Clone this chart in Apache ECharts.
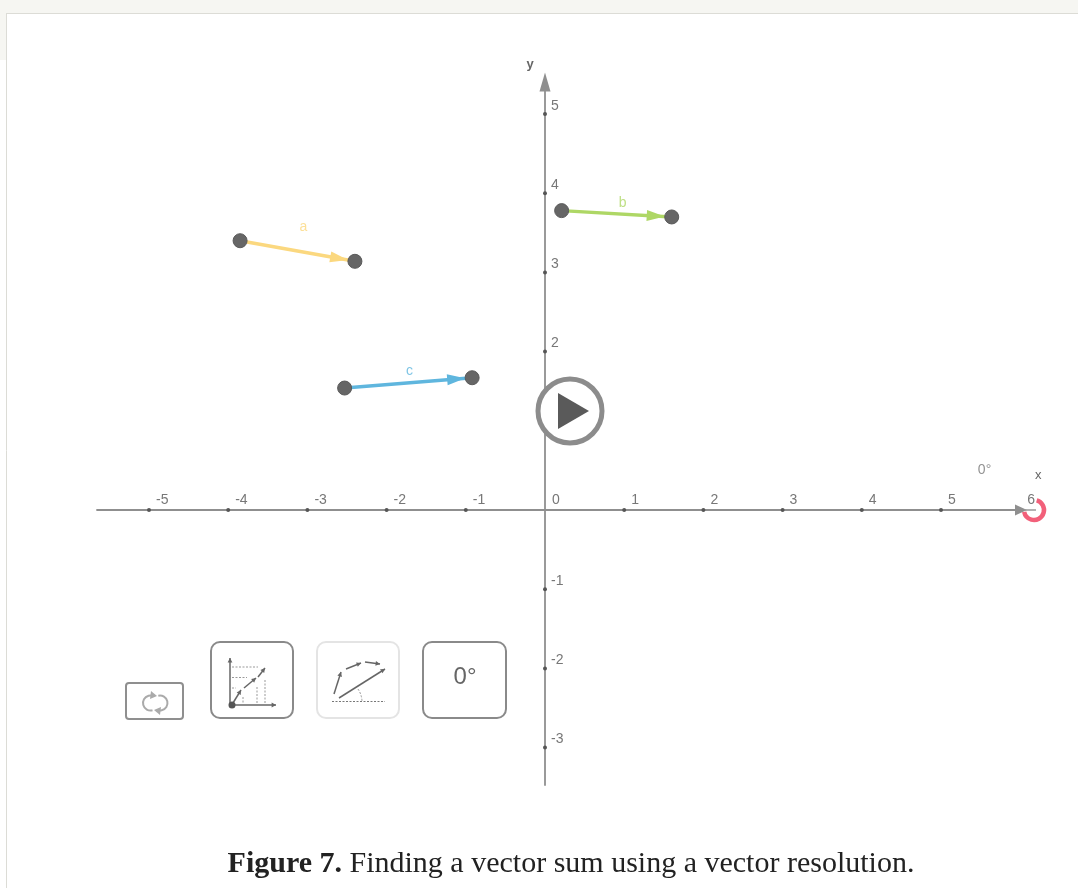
<!DOCTYPE html>
<html>
<head>
<meta charset="utf-8">
<style>html,body{margin:0;padding:0;background:#fff}#c{width:1078px;height:888px}</style>
<script src="https://cdn.jsdelivr.net/npm/echarts@6/dist/echarts.min.js"></script>
</head>
<body>
<div id="c"></div>
<script>
var xTicks = [-5,-4,-3,-2,-1,0,1,2,3,4,5,6];
var yTicks = [-3,-2,-1,1,2,3,4,5];
var vectorNames = ['a','b','c'];
var vectorStarts = [[-3.85,3.40],[0.21,3.78],[-2.53,1.54]];
var vectorEnds = [[-2.40,3.14],[1.60,3.70],[-0.92,1.67]];
var vectorLabelPoints = [[-3.05,3.57],[0.98,3.88],[-1.71,1.75]];
var vectorColors = ['#fbd87f','#aed765','#5fb6de'];
var angleLabelPoint = [5.55,0.50];
var angleText = '0°';

var chart = echarts.init(document.getElementById('c'), null, {renderer:'canvas'});
var GREY = '#8f8f8f', TXT = '#777';
var SANS = '"Liberation Sans", Arial, sans-serif';
var SERIF = '"Liberation Serif", "Times New Roman", serif';

function arrow(p, q, color, w, head, z) {
  var a = Math.atan2(q[1]-p[1], q[0]-p[0]), h = head || 5;
  return [
    {type:'line', z:z||20, shape:{x1:p[0],y1:p[1],x2:q[0],y2:q[1]}, style:{stroke:color,lineWidth:w||1.5}},
    {type:'polygon', z:z||20, shape:{points:[q,
      [q[0]-h*Math.cos(a-0.5), q[1]-h*Math.sin(a-0.5)],
      [q[0]-h*Math.cos(a+0.5), q[1]-h*Math.sin(a+0.5)]]}, style:{fill:color}}
  ];
}
function dashed(x1,y1,x2,y2,c){
  return {type:'line', z:20, shape:{x1:x1,y1:y1,x2:x2,y2:y2}, style:{stroke:c||'#999',lineWidth:1,lineDash:[2,1.5]}};
}
function box(x,y,w,h,r,c,lw){
  return {type:'rect', z:15, shape:{x:x,y:y,width:w,height:h,r:r}, style:{fill:'#fff',stroke:c,lineWidth:lw}};
}

var g = [
  {type:'rect', z:-3, silent:true, shape:{x:0,y:0,width:1078,height:13}, style:{fill:'#f6f6f2'}},
  {type:'rect', z:-3, silent:true, shape:{x:0,y:13,width:6,height:47}, style:{fill:'#f6f6f2'}},
  {type:'line', z:-2, silent:true, shape:{x1:6,y1:13.5,x2:1078,y2:13.5}, style:{stroke:'#dcdcd6',lineWidth:1}},
  {type:'line', z:-2, silent:true, shape:{x1:6.5,y1:13,x2:6.5,y2:888}, style:{stroke:'#dcdcd6',lineWidth:1}},
  // play button
  {type:'circle', z:15, shape:{cx:570,cy:411,r:32}, style:{fill:'#fff',stroke:'#8c8c8c',lineWidth:5}},
  {type:'polygon', z:16, shape:{points:[[558,393],[558,429],[589,411]]}, style:{fill:'#5a5a5a'}},
  // rotate handle
  {type:'line', z:16, shape:{x1:1024,y1:510,x2:1036,y2:510}, style:{stroke:'#999',lineWidth:1.5}},
  {type:'arc', z:17, shape:{cx:1034,cy:510,r:10,startAngle:-1.3,endAngle:2.95}, style:{stroke:'#f2607a',lineWidth:4.5,fill:'none'}},
  // buttons
  box(126,683,57,36,3,'#8f8f8f',2),
  box(211,642,82,76,9,'#8a8a8a',2),
  box(317,642,82,76,9,'#e4e4e4',2),
  box(423,642,83,76,9,'#8a8a8a',2),
  {type:'text', z:20, style:{x:465,y:677,text:'0°',font:'24px "Liberation Sans", Arial, sans-serif',fill:'#666',align:'center',verticalAlign:'middle'}},
  // reset icon
  {type:'arc', z:20, shape:{cx:150.5,cy:703,r:7.5,startAngle:1.3,endAngle:5.0}, style:{stroke:'#aaa',lineWidth:2,fill:'none'}},
  {type:'arc', z:20, shape:{cx:160,cy:703,r:7.5,startAngle:-1.8,endAngle:1.8}, style:{stroke:'#aaa',lineWidth:2,fill:'none'}},
  {type:'polygon', z:20, shape:{points:[[151,691],[157,696],[150,699]]}, style:{fill:'#aaa'}},
  {type:'polygon', z:20, shape:{points:[[160,715],[154,710],[161,707]]}, style:{fill:'#aaa'}},
  // resolution icon
  {type:'circle', z:21, shape:{cx:232,cy:705,r:3.5}, style:{fill:'#555'}},
  dashed(232,667,258,667), dashed(232,677.5,247,677.5), dashed(232,688,236,688),
  dashed(243,697,243,703), dashed(257,687,257,703), dashed(265,680,265,703),
  {type:'arc', z:20, shape:{cx:339,cy:702,r:23,startAngle:-0.6,endAngle:0}, style:{stroke:'#999',lineWidth:1,lineDash:[2,1.5],fill:'none'}},
  dashed(332,701.5,385,701.5,'#777')
];
[
  [[230,704],[230,658]], [[232,705],[276,705]],
  [[233,703],[241,690]], [[244,688],[256,678]], [[258,677],[265,668]],
  [[334,694],[341,672]], [[346,669],[361,663]], [[365,662],[380,664]], [[339,698],[385,669]]
].forEach(function(s){ g = g.concat(arrow(s[0], s[1], '#666', 1.5, 5)); });

// Arrowhead whose tip stops at the rim of the end dot (symbol box is centred on the vector end)
var HEAD = 'path://M25 32L30.5 50L19.5 50Z M0 0L0.01 0L0 0.01Z M50 50L49.99 50L50 49.99Z';

var series = [
  {type:'lines', coordinateSystem:'cartesian2d', polyline:false, z:4,
   symbol:['none',HEAD], symbolSize:[0,50], silent:true,
   data: vectorNames.map(function(n,i){
     return {name:n, coords:[vectorStarts[i], vectorEnds[i]], lineStyle:{color:vectorColors[i],width:3.5,opacity:1,curveness:0}};
   })},
  {type:'scatter', name:'endpoints', z:6, symbolSize:14, silent:true,
   itemStyle:{color:'#666',borderColor:'#5a5a5a',borderWidth:1,opacity:1},
   data: vectorStarts.concat(vectorEnds)},
  {type:'scatter', name:'xticks', z:3, symbolSize:4, silent:true, itemStyle:{color:'#555',opacity:1},
   data: xTicks.filter(function(v){return v!==0 && v!==6;}).map(function(v){return [v,0];})},
  {type:'scatter', name:'yticks', z:3, symbolSize:4, silent:true, itemStyle:{color:'#555',opacity:1},
   data: yTicks.map(function(v){return [0,v];})},
  {type:'scatter', name:'vectorLabels', z:5, symbolSize:0, silent:true,
   data: vectorLabelPoints.map(function(p,i){
     return {value:p, label:{show:true, position:'inside', formatter:vectorNames[i], color:vectorColors[i], fontSize:14, fontFamily:SANS}};
   })},
  {type:'scatter', name:'angleLabel', z:5, symbolSize:0, silent:true,
   data:[{value:angleLabelPoint, label:{show:true, position:'inside', formatter:angleText, color:'#777', fontSize:14, fontFamily:SANS}}]}
];

var SCALE = 79.2, OX = 545, OY = 510;
var gl = 97, gr = 1021, gt = 82, gb = 785;

var option = {
  animation:false,
  backgroundColor:'#fff',
  title:{
    text:'{b|Figure 7.} Finding a vector sum using a vector resolution.',
    left:566, top:844, textAlign:'center',
    textStyle:{fontFamily:SERIF, fontSize:30, fontWeight:'normal', color:'#222',
      rich:{b:{fontWeight:'bold', fontSize:30, color:'#222', fontFamily:SERIF}}}
  },
  grid:{left:gl, right:1078-gr, top:gt, bottom:888-gb, containLabel:false},
  xAxis:{
    type:'value', min:(gl-OX)/SCALE, max:(gr-OX)/SCALE,
    splitLine:{show:false}, axisTick:{show:false},
    axisLine:{show:true, onZero:true, symbol:['none','triangle'], symbolSize:[11,12], lineStyle:{color:GREY,width:1.8}},
    axisLabel:{show:true, inside:true, customValues:xTicks, margin:gb-OY+3, align:'left', padding:[0,0,0,7],
      color:TXT, fontSize:14, fontFamily:SANS, hideOverlap:false, formatter:function(v){return String(v);}},
    name:'x', nameLocation:'end', nameGap:14,
    nameTextStyle:{color:'#666', fontSize:13, fontFamily:SANS, verticalAlign:'bottom', padding:[0,0,28,0]}
  },
  yAxis:{
    type:'value', min:(OY-gb)/SCALE, max:(OY-gt)/SCALE,
    splitLine:{show:false}, axisTick:{show:false},
    axisLine:{show:true, onZero:true, symbol:['none','triangle'], symbolSize:[11,19], lineStyle:{color:GREY,width:1.8}},
    axisLabel:{show:true, inside:true, customValues:yTicks, margin:OX-gl+6, align:'left', verticalAlign:'bottom', padding:[0,0,1,0],
      color:TXT, fontSize:14, fontFamily:SANS, hideOverlap:false, formatter:function(v){return String(v);}},
    name:'y', nameLocation:'end', nameGap:11,
    nameTextStyle:{color:'#666', fontSize:13, fontWeight:'bold', fontFamily:SANS, padding:[0,30,0,0]}
  },
  series:series,
  graphic:{elements:g}
};
chart.setOption(option);
</script>
</body>
</html>
